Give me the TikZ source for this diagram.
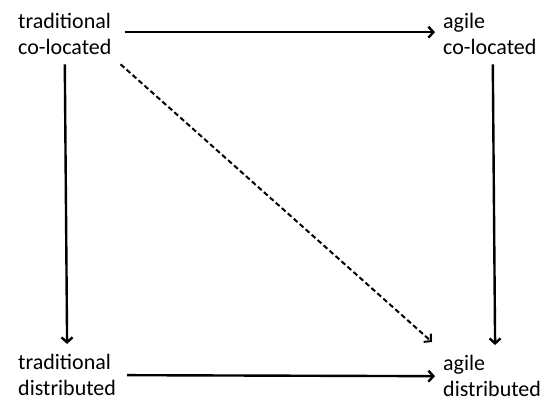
\documentclass[tikz,border=0pt]{standalone}
\usepackage{fontspec}
\setmainfont{Carlito}
\usetikzlibrary{arrows.meta,positioning}
\tikzset{corner label/.style={rectangle,draw=none,fill=none,align=left,inner sep=3pt,anchor=north west,
           font=\fontsize{22}{26.5}\selectfont},
         link/.style={->,line width=2.4pt}
}

\begin{document}
\begin{tikzpicture}[>={Straight Barb[length=5pt,width=11pt]},
x=1pt,y=-1pt]

\useasboundingbox (0,0) rectangle (548,403);

\node [corner label] (tc) at (15,10) {traditional\\co-located};
\node [corner label] (ac) at (440,10) {agile\\co-located};
\node [corner label] (td) at (15,351) {traditional\\distributed};
\node [corner label] (ad) at (440,352) {agile\\distributed};

\draw [link] ([xshift=10pt,yshift=2pt]tc.east) -- ([xshift=-5pt,yshift=2pt]ac.west);
\draw [link] ([yshift=-6pt]tc.south) -- ([yshift=7pt]td.north);
\draw [link] ([xshift=3pt,yshift=-6pt]ac.south) -- ([xshift=3pt,yshift=7pt]ad.north);
\draw [link] ([xshift=8pt]td.east) -- ([xshift=-5pt]ad.west);
\draw [link,line width=2pt,dash pattern=on 5pt off 3pt] ([xshift=6pt,yshift=-6pt]tc.south east) -- ([xshift=-8pt,yshift=10pt]ad.north west);
\end{tikzpicture}
\end{document}
